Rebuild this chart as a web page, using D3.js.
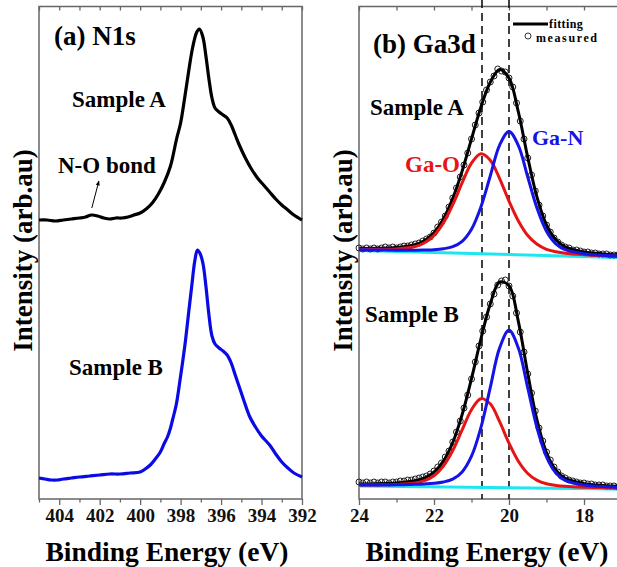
<!DOCTYPE html>
<html>
<head>
<meta charset="utf-8">
<script src="https://cdn.jsdelivr.net/npm/d3@7"></script>
<style>
  body { margin: 0; background: #fff; }
  text { font-family: "Liberation Serif", "Times New Roman", serif; font-weight: bold; }
</style>
</head>
<body>
<div id="chart"></div>
<script>
// ---- (a) N1s spectra: [binding energy, intensity] ----
const n1sSampleA = [
  [405.0, 279], [404.6, 279], [404.2, 278], [403.8, 279], [403.4, 280], [403.0, 281],
  [402.7, 282], [402.4, 284], [402.1, 283], [401.8, 281], [401.5, 280], [401.2, 281],
  [400.9, 281], [400.6, 282], [400.3, 284], [400.0, 286], [399.7, 290], [399.4, 296],
  [399.1, 305], [398.8, 317], [398.5, 333], [398.2, 360], [398.0, 376], [397.8, 401],
  [397.6, 428], [397.4, 452], [397.2, 467], [397.07, 470], [396.9, 462], [396.75, 443],
  [396.6, 420], [396.45, 401], [396.3, 391], [396.1, 387], [395.9, 384], [395.7, 381],
  [395.5, 374], [395.3, 364], [395.1, 354], [394.8, 341], [394.5, 330], [394.2, 321],
  [393.9, 314], [393.6, 307], [393.3, 300], [393.0, 294], [392.7, 289], [392.4, 284],
  [392.0, 279]
];
const n1sSampleB = [
  [405.0, 21], [404.7, 20], [404.4, 19], [404.1, 19], [403.8, 20], [403.4, 21],
  [403.0, 22], [402.5, 23], [402.0, 24], [401.5, 25], [401.0, 25], [400.5, 26],
  [400.0, 27], [399.75, 30], [399.5, 34], [399.25, 40], [399.0, 47], [398.8, 56],
  [398.65, 62], [398.5, 71], [398.4, 79], [398.3, 87], [398.2, 96], [398.05, 116],
  [397.9, 137], [397.75, 160], [397.6, 187], [397.45, 213], [397.3, 238], [397.17, 249],
  [397.05, 246], [396.9, 236], [396.75, 213], [396.6, 184], [396.45, 163], [396.3, 155],
  [396.1, 151], [395.9, 148], [395.7, 144], [395.5, 136], [395.3, 124], [395.1, 112],
  [394.9, 100], [394.6, 83], [394.3, 72], [394.0, 63], [393.6, 54], [393.3, 45],
  [393.0, 37], [392.7, 31], [392.4, 26], [392.0, 22]
];
const noBond = [[402.39, 291], [402.04, 318]];

// ---- (b) Ga3d fits ----
const fitEnergy = [24, 23.5, 23, 22.5, 22.25, 22, 21.75, 21.5, 21.25, 21, 20.75, 20.5,
                   20.25, 20, 19.75, 19.5, 19.25, 19, 18.75, 18.5, 18, 17.5, 17];
const fitA  = [250.5, 250.7, 251.4, 254.3, 258.5, 266.3, 279.9, 300.6, 327.9, 360.1, 391.8, 416.8,
               429.5, 420.9, 387.0, 341.5, 301.3, 274.0, 259.2, 252.1, 247.1, 245.1, 243.8];
const gaOA  = [249.8, 249.7, 250.1, 252.5, 256.3, 263.5, 276.1, 294.3, 316.1, 335.8, 345.2, 338.8,
               320.4, 297.9, 278.0, 263.5, 254.7, 249.7, 247.3, 245.8, 244.3, 243.3, 242.5];
const gaNA  = [249.2, 249.0, 248.8, 248.8, 249.0, 249.3, 250.2, 252.3, 257.7, 269.8, 292.0, 323.0,
               353.9, 367.5, 353.4, 322.0, 290.5, 267.8, 255.2, 249.3, 245.3, 243.8, 242.8];
const fitB  = [14.9, 15.3, 16.1, 18.3, 21.1, 26.8, 37.9, 56.5, 84.4, 120.4, 160.0, 195.1,
               217.0, 213.3, 177.4, 125.4, 78.3, 46.3, 28.9, 20.7, 15.4, 13.5, 12.4];
const gaOB  = [14.0, 14.1, 14.5, 16.0, 18.3, 23.2, 32.9, 48.5, 69.1, 89.3, 100.3, 95.2,
               77.3, 55.8, 37.7, 25.5, 18.6, 15.2, 13.6, 12.7, 11.8, 11.2, 10.8];
const gaNB  = [13.9, 14.0, 14.2, 14.7, 15.1, 15.7, 17.0, 19.9, 27.1, 42.8, 71.3, 111.4,
               151.1, 168.8, 150.9, 111.0, 70.7, 42.0, 26.1, 18.6, 14.0, 12.5, 11.6];
const bgEnergy = [24, 17];
const bgA = [248.5, 241.5];
const bgB = [13.0, 10.0];

// measured points, 24.0 -> 17.0 eV in 0.1 eV steps
const measEnergy = d3.range(0, 71).map(i => +(24 - i * 0.1).toFixed(1));
const measA = [251, 250, 251, 250, 251, 250, 251, 252, 251, 252,
               251, 252, 253, 253, 254, 255, 256, 258, 260, 262,
               266, 272, 277, 283, 292, 301, 311, 322, 334, 346,
               360, 374, 386, 397, 409, 417, 423, 430, 428, 427,
               421, 412, 396, 378, 360, 341, 324, 308, 294, 283,
               274, 267, 261, 257, 254, 252, 251, 249, 249, 248,
               247, 247, 246, 246, 245, 245, 245, 244, 244, 244, 243];
const measB = [17, 16, 17, 16, 17, 16, 17, 17, 16, 17,
               17, 18, 18, 19, 19, 20, 21, 22, 23, 25,
               28, 32, 36, 42, 48, 57, 67, 78, 91, 104,
               120, 137, 153, 168, 182, 195, 205, 214, 218, 219,
               213, 203, 186, 167, 147, 125, 106, 88, 71, 58,
               47, 39, 32, 27, 23, 21, 19, 18, 17, 16,
               16, 15, 15, 14, 14, 14, 13, 13, 13, 12, 12];
const peakLines = [20.72, 20.0];

const W = 617, H = 567;
const svg = d3.select("#chart").append("svg")
    .attr("width", W).attr("height", H);

const axisColor = "#666";
const frameTop = 6.5, frameBottom = 499;

// ---------- panel (a) ----------
const xN = d3.scaleLinear().domain([405, 392]).range([39, 302]);
const yN = d3.scaleLinear().domain([0, 493]).range([frameBottom, 6]);

// ---------- panel (b) ----------
const xG = d3.scaleLinear().domain([24, 17]).range([359, 621.5]);
const yG = d3.scaleLinear().domain([0, 493]).range([frameBottom, 6]);

function drawAxes(x, ticks) {
    // bottom axis with outward ticks, labels on even values
    const gb = svg.append("g")
        .attr("transform", "translate(0," + frameBottom + ")")
        .call(d3.axisBottom(x).tickValues(ticks).tickSizeOuter(0).tickSize(6)
            .tickFormat(d => d % 2 === 0 ? d : ""));
    gb.select(".domain").remove();
    gb.selectAll(".tick line")
        .attr("stroke", axisColor).attr("stroke-width", 1.3)
        .attr("y2", d => d % 2 === 0 ? 6 : 3.5);
    gb.selectAll(".tick text")
        .attr("y", 10).attr("dy", "0.71em")
        .style("font-size", "19px").attr("fill", "#111");

    // top inward ticks
    const gt = svg.append("g")
        .attr("transform", "translate(0," + frameTop + ")")
        .call(d3.axisBottom(x).tickValues(ticks).tickSize(4).tickFormat(""));
    gt.select(".domain").remove();
    gt.selectAll(".tick line").attr("stroke", axisColor).attr("stroke-width", 1.3);
}

drawAxes(xN, d3.range(392, 406));
drawAxes(xG, d3.range(17, 25));

// frames
svg.append("rect")
    .attr("x", xN(405)).attr("y", frameTop)
    .attr("width", xN(392) - xN(405)).attr("height", frameBottom - frameTop)
    .attr("fill", "none").attr("stroke", axisColor).attr("stroke-width", 1.5);
svg.append("rect")
    .attr("x", xG(24)).attr("y", frameTop)
    .attr("width", xG(17) - xG(24) + 5).attr("height", frameBottom - frameTop)
    .attr("fill", "none").attr("stroke", axisColor).attr("stroke-width", 1.5);

// N1s lines
const lineN = d3.line()
    .x(d => xN(d[0])).y(d => yN(d[1]))
    .curve(d3.curveCatmullRom);

svg.append("path").datum(n1sSampleA)
    .attr("d", lineN).attr("fill", "none")
    .attr("stroke", "#000").attr("stroke-width", 3.2);
svg.append("path").datum(n1sSampleB)
    .attr("d", lineN).attr("fill", "none")
    .attr("stroke", "#0a0ae6").attr("stroke-width", 3.2);

// N-O arrow
const defs = svg.append("defs");
defs.append("marker")
    .attr("id", "arrow").attr("viewBox", "0 0 10 10")
    .attr("refX", 9).attr("refY", 5)
    .attr("markerWidth", 5).attr("markerHeight", 5)
    .attr("orient", "auto")
    .append("path").attr("d", "M0,1 L10,5 L0,9 Z").attr("fill", "#000");
svg.append("line")
    .attr("x1", xN(noBond[0][0])).attr("y1", yN(noBond[0][1]))
    .attr("x2", xN(noBond[1][0])).attr("y2", yN(noBond[1][1]))
    .attr("stroke", "#000").attr("stroke-width", 1)
    .attr("marker-end", "url(#arrow)");

// Ga3d dashed reference lines
svg.selectAll(".peakline")
    .data(peakLines)
    .enter()
    .append("line")
    .attr("class", "peakline")
    .attr("x1", d => xG(d)).attr("x2", d => xG(d))
    .attr("y1", 0).attr("y2", frameBottom)
    .attr("stroke", "#111").attr("stroke-width", 1.6)
    .attr("stroke-dasharray", "8,5");

const lineG = d3.line()
    .x(d => xG(d[0])).y(d => yG(d[1]))
    .curve(d3.curveCatmullRom);
const zipE = (e, v) => e.map((x, i) => [x, v[i]]);

function drawGa(bg, meas, fit, gaO, gaN) {
    svg.append("path").datum(zipE(bgEnergy, bg))
        .attr("d", lineG).attr("fill", "none")
        .attr("stroke", "#1ee6f0").attr("stroke-width", 3);
    svg.append("g").selectAll("circle")
        .data(zipE(measEnergy, meas))
        .enter()
        .append("circle")
        .attr("cx", d => xG(d[0])).attr("cy", d => yG(d[1]))
        .attr("r", 3)
        .attr("fill", "none").attr("stroke", "#222").attr("stroke-width", 1);
    svg.append("path").datum(zipE(fitEnergy, fit))
        .attr("d", lineG).attr("fill", "none")
        .attr("stroke", "#000").attr("stroke-width", 3);
    svg.append("path").datum(zipE(fitEnergy, gaO))
        .attr("d", lineG).attr("fill", "none")
        .attr("stroke", "#e61414").attr("stroke-width", 3);
    svg.append("path").datum(zipE(fitEnergy, gaN))
        .attr("d", lineG).attr("fill", "none")
        .attr("stroke", "#1414e6").attr("stroke-width", 3);
}
drawGa(bgA, measA, fitA, gaOA, gaNA);
drawGa(bgB, measB, fitB, gaOB, gaNB);

// legend
const legend = svg.append("g").attr("class", "legend");
legend.append("line")
    .attr("x1", 513).attr("x2", 548).attr("y1", 24).attr("y2", 24)
    .attr("stroke", "#000").attr("stroke-width", 3);
legend.append("text").attr("x", 549).attr("y", 28)
    .style("font-size", "12px").attr("letter-spacing", "0.4px").text("fitting");
legend.append("circle").attr("cx", 528).attr("cy", 36).attr("r", 3)
    .attr("fill", "none").attr("stroke", "#333").attr("stroke-width", 1);
legend.append("text").attr("x", 536).attr("y", 41.5)
    .style("font-size", "12px").attr("letter-spacing", "1.6px").text("measured");

// labels
function label(x, y, txt, size, color) {
    svg.append("text").attr("x", x).attr("y", y)
        .style("font-size", size + "px").attr("fill", color || "#000").text(txt);
}
label(54, 45, "(a) N1s", 27);
label(72, 107, "Sample A", 23);
label(58, 173, "N-O bond", 23);
label(69, 375, "Sample B", 23);
label(373, 53, "(b) Ga3d", 27);
label(370, 115, "Sample A", 23);
label(365, 322, "Sample B", 23);
label(405, 172, "Ga-O", 23, "#e61414");
label(532, 145, "Ga-N", 22, "#1414e6");

// axis titles
[167, 487].forEach(cx => {
    svg.append("text").attr("x", cx).attr("y", 561)
        .attr("text-anchor", "middle").style("font-size", "27.5px")
        .text("Binding Energy (eV)");
});
[32, 352].forEach(bx => {
    svg.append("text")
        .attr("transform", "translate(" + bx + ",250.5) rotate(-90)")
        .attr("text-anchor", "middle").style("font-size", "27px")
        .text("Intensity (arb.au)");
});
</script>
</body>
</html>
